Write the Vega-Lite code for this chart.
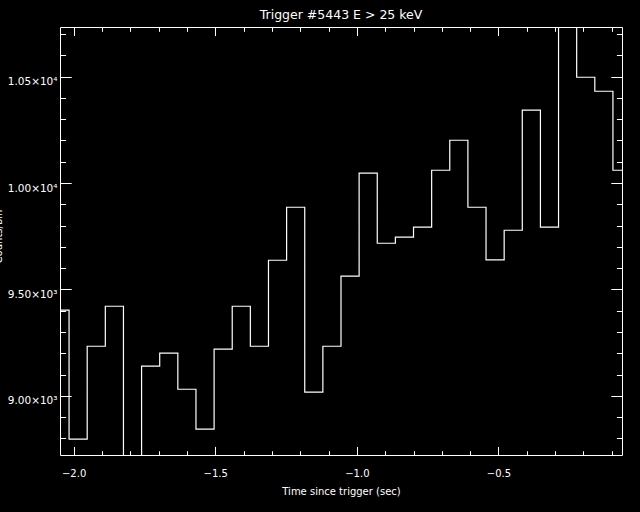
{
  "$schema": "https://vega.github.io/schema/vega-lite/v6.json",
  "width": 562,
  "height": 428,
  "autosize": {"type": "none"},
  "padding": {"left": 60, "top": 27, "right": 18, "bottom": 57},
  "background": "black",
  "title": {
    "text": "Trigger #5443 E > 25 keV",
    "color": "white",
    "font": "DejaVu Sans",
    "fontSize": 12.5,
    "fontWeight": "normal",
    "anchor": "middle",
    "frame": "group",
    "baseline": "alphabetic",
    "offset": -5
  },
  "config": {
    "view": {"stroke": null},
    "axis": {
      "grid": false,
      "domainColor": "white",
      "domainWidth": 1,
      "tickColor": "white",
      "tickWidth": 1,
      "labelColor": "white",
      "titleColor": "white",
      "labelFont": "DejaVu Sans",
      "titleFont": "DejaVu Sans",
      "labelFontSize": 10,
      "titleFontSize": 10,
      "titleFontWeight": "normal",
      "labelFlush": false,
      "labelOverlap": false,
      "minExtent": 0
    }
  },
  "data": {
    "values": [
      {"t": -2.048, "counts": 9403},
      {"t": -1.984, "counts": 8797},
      {"t": -1.920, "counts": 9233},
      {"t": -1.856, "counts": 9421},
      {"t": -1.792, "counts": 8690},
      {"t": -1.728, "counts": 9140},
      {"t": -1.664, "counts": 9201},
      {"t": -1.600, "counts": 9031},
      {"t": -1.536, "counts": 8844},
      {"t": -1.472, "counts": 9219},
      {"t": -1.408, "counts": 9421},
      {"t": -1.344, "counts": 9233},
      {"t": -1.280, "counts": 9637},
      {"t": -1.216, "counts": 9886},
      {"t": -1.152, "counts": 9017},
      {"t": -1.088, "counts": 9233},
      {"t": -1.024, "counts": 9562},
      {"t": -0.960, "counts": 10046},
      {"t": -0.896, "counts": 9717},
      {"t": -0.832, "counts": 9746},
      {"t": -0.768, "counts": 9793},
      {"t": -0.704, "counts": 10060},
      {"t": -0.640, "counts": 10201},
      {"t": -0.576, "counts": 9886},
      {"t": -0.512, "counts": 9639},
      {"t": -0.448, "counts": 9778},
      {"t": -0.384, "counts": 10342},
      {"t": -0.320, "counts": 9793},
      {"t": -0.256, "counts": 10760},
      {"t": -0.192, "counts": 10497},
      {"t": -0.128, "counts": 10431},
      {"t": -0.064, "counts": 10060}
    ]
  },
  "resolve": {"axis": {"x": "independent", "y": "independent"}},
  "layer": [
    {
      "mark": {"type": "line", "interpolate": "step", "color": "white", "strokeWidth": 1.2, "clip": true},
      "encoding": {
        "x": {
          "field": "t", "type": "quantitative",
          "scale": {"domain": [-2.048, -0.064], "nice": false, "zero": false},
          "axis": {
            "orient": "bottom",
            "values": [-2.0, -1.5, -1.0, -0.5],
            "format": ".1f",
            "tickSize": -8.6,
            "labelPadding": 21.6,
            "labelBaseline": "top",
            "title": "Time since trigger (sec)",
            "titleY": 31,
            "titleBaseline": "top"
          }
        },
        "y": {
          "field": "counts", "type": "quantitative",
          "scale": {"domain": [8722, 10733], "nice": false, "zero": false},
          "axis": {
            "orient": "left",
            "values": [9000, 9500, 10000, 10500],
            "labelExpr": "datum.value >= 10000 ? format(datum.value / 10000, '.2f') + '×10⁴' : format(datum.value / 1000, '.2f') + '×10³'",
            "tickSize": -11.2,
            "labelPadding": 14.2,
            "labelBaseline": "top",
            "labelOffset": 0,
            "labelFontSize": 10.5,
            "title": "Counts/bin",
            "titleAngle": -90,
            "titleX": -59,
            "titleY": 209,
            "titleAlign": "center",
            "titleBaseline": "alphabetic"
          }
        }
      }
    },
    {
      "mark": {"type": "line", "interpolate": "step", "opacity": 0, "clip": true},
      "encoding": {
        "x": {
          "field": "t", "type": "quantitative",
          "axis": {
            "orient": "bottom",
            "values": [-1.9, -1.8, -1.7, -1.6, -1.4, -1.3, -1.2, -1.1, -0.9, -0.8, -0.7, -0.6, -0.4, -0.3, -0.2, -0.1],
            "tickSize": -4.3,
            "labels": false,
            "domain": false,
            "title": null
          }
        },
        "y": {
          "field": "counts", "type": "quantitative",
          "axis": {
            "orient": "left",
            "values": [8800, 8900, 9100, 9200, 9300, 9400, 9600, 9700, 9800, 9900, 10100, 10200, 10300, 10400, 10600, 10700],
            "tickSize": -5.6,
            "labels": false,
            "domain": false,
            "title": null
          }
        }
      }
    },
    {
      "mark": {"type": "line", "interpolate": "step", "opacity": 0, "clip": true},
      "encoding": {
        "x": {
          "field": "t", "type": "quantitative",
          "axis": {
            "orient": "top",
            "values": [-2.0, -1.5, -1.0, -0.5],
            "tickSize": -8.6,
            "labels": false,
            "title": null
          }
        },
        "y": {
          "field": "counts", "type": "quantitative",
          "axis": {
            "orient": "right",
            "values": [9000, 9500, 10000, 10500],
            "tickSize": -11.2,
            "labels": false,
            "title": null
          }
        }
      }
    },
    {
      "mark": {"type": "line", "interpolate": "step", "opacity": 0, "clip": true},
      "encoding": {
        "x": {
          "field": "t", "type": "quantitative",
          "axis": {
            "orient": "top",
            "values": [-1.9, -1.8, -1.7, -1.6, -1.4, -1.3, -1.2, -1.1, -0.9, -0.8, -0.7, -0.6, -0.4, -0.3, -0.2, -0.1],
            "tickSize": -4.3,
            "labels": false,
            "domain": false,
            "title": null
          }
        },
        "y": {
          "field": "counts", "type": "quantitative",
          "axis": {
            "orient": "right",
            "values": [8800, 8900, 9100, 9200, 9300, 9400, 9600, 9700, 9800, 9900, 10100, 10200, 10300, 10400, 10600, 10700],
            "tickSize": -5.6,
            "labels": false,
            "domain": false,
            "title": null
          }
        }
      }
    }
  ]
}
